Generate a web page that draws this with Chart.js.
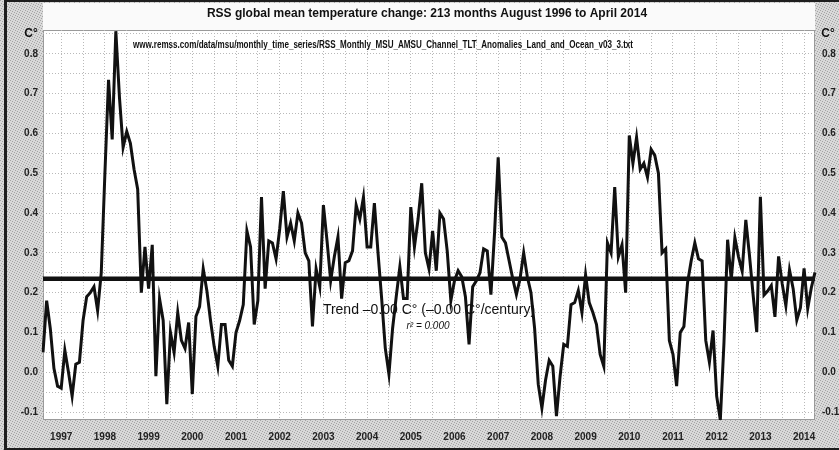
<!DOCTYPE html>
<html>
<head>
<meta charset="utf-8">
<script src="https://cdn.jsdelivr.net/npm/chart.js@4.4.1/dist/chart.umd.min.js"></script>
<style>
  html, body { margin: 0; padding: 0; background: #fff; }
  #wrap { width: 839px; height: 450px; }
</style>
</head>
<body>
<div id="wrap"><canvas id="rss" width="839" height="450"></canvas></div>
<script>
// RSS TLT monthly anomalies (C°), Aug 1996 .. Apr 2014
const startYear = 1996;
const startMonth = 8;
const anom1996 = [0.05, 0.18, 0.11, 0.01, -0.035];
const anom1997 = [-0.04, 0.055, 0.0, -0.06, 0.02, 0.025, 0.13, 0.19, 0.20, 0.215, 0.155, 0.25];
const anom1998 = [0.50, 0.735, 0.585, 0.857, 0.69, 0.565, 0.605, 0.575, 0.51, 0.46, 0.20, 0.315];
const anom1999 = [0.21, 0.32, -0.01, 0.185, 0.13, -0.08, 0.10, 0.05, 0.15, 0.08, 0.06, 0.125];
const anom2000 = [-0.055, 0.14, 0.165, 0.26, 0.205, 0.13, 0.065, 0.015, 0.12, 0.12, 0.03, 0.015];
const anom2001 = [0.10, 0.13, 0.17, 0.355, 0.315, 0.12, 0.18, 0.44, 0.21, 0.33, 0.325, 0.285];
const anom2002 = [0.36, 0.455, 0.34, 0.375, 0.33, 0.40, 0.375, 0.30, 0.28, 0.115, 0.26, 0.215];
const anom2003 = [0.42, 0.33, 0.23, 0.29, 0.34, 0.185, 0.275, 0.28, 0.305, 0.42, 0.385, 0.44];
const anom2004 = [0.315, 0.315, 0.425, 0.30, 0.185, 0.06, -0.005, 0.11, 0.19, 0.265, 0.185, 0.185];
const anom2005 = [0.415, 0.315, 0.385, 0.475, 0.30, 0.26, 0.355, 0.255, 0.40, 0.385, 0.305, 0.18];
const anom2006 = [0.23, 0.255, 0.24, 0.19, 0.07, 0.215, 0.23, 0.25, 0.31, 0.305, 0.195, 0.35];
const anom2007 = [0.54, 0.34, 0.325, 0.28, 0.235, 0.195, 0.235, 0.30, 0.24, 0.20, 0.11, -0.03];
const anom2008 = [-0.09, -0.02, 0.03, 0.015, -0.11, -0.01, 0.07, 0.065, 0.17, 0.175, 0.205, 0.15];
const anom2009 = [0.245, 0.175, 0.15, 0.12, 0.045, 0.015, 0.325, 0.30, 0.465, 0.29, 0.32, 0.20];
const anom2010 = [0.595, 0.525, 0.59, 0.51, 0.525, 0.49, 0.56, 0.545, 0.50, 0.30, 0.31, 0.08];
const anom2011 = [0.045, -0.035, 0.10, 0.115, 0.225, 0.28, 0.325, 0.285, 0.28, 0.08, 0.025, 0.105];
const anom2012 = [-0.06, -0.12, 0.074, 0.333, 0.233, 0.338, 0.29, 0.254, 0.383, 0.294, 0.195, 0.101];
const anom2013 = [0.441, 0.194, 0.204, 0.218, 0.139, 0.291, 0.222, 0.167, 0.257, 0.21, 0.131, 0.162];
const anom2014 = [0.261, 0.16, 0.213, 0.251];

// least-squares trend, value at first and last month
const trendEnds = [0.235, 0.235];

const yearTicks = ['1997', '1998', '1999', '2000', '2001', '2002', '2003', '2004', '2005',
                   '2006', '2007', '2008', '2009', '2010', '2011', '2012', '2013', '2014'];
const yTicks = [-0.1, -0.05, 0, 0.05, 0.1, 0.15, 0.2, 0.25, 0.3, 0.35,
                0.4, 0.45, 0.5, 0.55, 0.6, 0.65, 0.7, 0.75, 0.8, 0.85];
const yMin = -0.12;
const yMax = 0.86;

const titleText = 'RSS global mean temperature change: 213 months August 1996 to April 2014';
const sourceText = 'www.remss.com/data/msu/monthly_time_series/RSS_Monthly_MSU_AMSU_Channel_TLT_Anomalies_Land_and_Ocean_v03_3.txt';
const trendText = 'Trend \u20130.00 C\u00b0 (\u20130.00 C\u00b0/century)';
const r2Text = 'r\u00b2 = 0.000';

const series = [].concat(anom1996, anom1997, anom1998, anom1999, anom2000, anom2001,
  anom2002, anom2003, anom2004, anom2005, anom2006, anom2007, anom2008, anom2009,
  anom2010, anom2011, anom2012, anom2013, anom2014);

const months = series.map((_, i) => {
  const m = startMonth - 1 + i;
  return (startYear + Math.floor(m / 12)) + '-' + String(m % 12 + 1).padStart(2, '0');
});

const FONT = "'Liberation Sans', Arial, sans-serif";
Chart.defaults.font.family = FONT;

// grainy grey used for the axis panels
function speckle(ctx, base, dot) {
  const c = document.createElement('canvas');
  c.width = 5; c.height = 5;
  const g = c.getContext('2d');
  g.fillStyle = base;
  g.fillRect(0, 0, 5, 5);
  g.fillStyle = dot;
  [[0, 0], [2, 1], [4, 2], [1, 3], [3, 4]].forEach(([x, y]) => g.fillRect(x, y, 1, 1));
  return ctx.createPattern(c, 'repeat');
}

const panels = {
  id: 'panels',
  beforeDraw(chart) {
    const { ctx, chartArea: a, width, height } = chart;
    ctx.save();
    ctx.fillStyle = speckle(ctx, '#d9d9d9', '#a4a4a4');
    ctx.fillRect(0, 0, width, height);
    ctx.fillStyle = '#fafafa';
    ctx.fillRect(a.left, 3, a.right - a.left, a.top - 3);
    ctx.fillStyle = '#ffffff';
    ctx.fillRect(a.left, a.top, a.right - a.left, a.bottom - a.top);
    ctx.strokeStyle = '#9a9a9a';
    ctx.lineWidth = 1;
    ctx.strokeRect(a.left + 0.5, a.top + 0.5, a.right - a.left - 1, a.bottom - a.top - 1);
    // outer frame
    ctx.fillStyle = '#1e1e1e';
    ctx.fillRect(4, 0, 3, height);
    ctx.fillRect(4, 0, width - 4, 2);
    ctx.fillRect(4, height - 2, width - 4, 2);
    ctx.restore();
  },
  afterDraw(chart) {
    const { ctx, chartArea: a, scales } = chart;
    const cx = (a.left + a.right) / 2;
    ctx.save();
    ctx.fillStyle = '#111';
    ctx.textBaseline = 'middle';
    ctx.textAlign = 'center';
    ctx.font = 'bold 12px ' + FONT;
    ctx.fillText(titleText, cx - 2, 14);

    ctx.textAlign = 'left';
    ctx.font = 'bold 10px ' + FONT;
    ctx.fillText(sourceText, 133, 45, 500);

    ctx.font = 'bold 12px ' + FONT;
    ctx.textAlign = 'center';
    ctx.fillText('C\u00b0', a.left - 12, 34);
    ctx.fillText('C\u00b0', a.right + 13, 34);

    const ty = scales.y.getPixelForValue(trendEnds[0]);
    ctx.font = '14px ' + FONT;
    ctx.fillText(trendText, cx, ty + 31);
    ctx.font = 'italic 10px ' + FONT;
    ctx.fillText(r2Text, cx - 1, ty + 47);
    ctx.restore();
  }
};

const yTickOpts = {
  font: { size: 10, weight: 'bold' },
  color: '#222',
  callback: v => (Math.abs(Math.round(v * 100)) % 10 === 0 ? v.toFixed(1) : '')
};

new Chart(document.getElementById('rss'), {
  type: 'line',
  data: {
    labels: months,
    datasets: [
      {
        label: 'Trend',
        data: [{ x: months[0], y: trendEnds[0] }, { x: months[months.length - 1], y: trendEnds[1] }],
        borderColor: '#111',
        borderWidth: 4.5,
        pointRadius: 0
      },
      {
        label: 'RSS',
        data: series,
        borderColor: '#111',
        borderWidth: 3,
        pointRadius: 0,
        tension: 0
      }
    ]
  },
  options: {
    responsive: false,
    animation: false,
    layout: { padding: { top: 30 } },
    plugins: {
      legend: { display: false },
      title: { display: false },
      tooltip: { enabled: false }
    },
    scales: {
      x: {
        type: 'category',
        offset: false,
        border: { display: false, dash: [1, 2] },
        grid: {
          drawTicks: false,
          color: c => {
            const lab = months[c.index] || '';
            return lab.endsWith('-01') || lab.endsWith('-07') ? '#b9b9b9' : 'rgba(0,0,0,0)';
          }
        },
        ticks: {
          autoSkip: false,
          maxRotation: 0,
          minRotation: 0,
          padding: 11,
          font: { size: 10, weight: 'bold' },
          color: '#222',
          callback: (v, i) => {
            const lab = months[i];
            const yr = lab.slice(0, 4);
            return lab.endsWith('-01') && yearTicks.includes(yr) ? yr : '';
          }
        },
        afterFit: s => { s.height = 30; }
      },
      y: {
        position: 'left',
        min: yMin,
        max: yMax,
        afterBuildTicks: s => { s.ticks = yTicks.map(v => ({ value: v })); },
        border: { display: false, dash: [1, 2] },
        grid: { drawTicks: false, color: '#b9b9b9' },
        ticks: Object.assign({ padding: 5 }, yTickOpts),
        afterFit: s => { s.width = 43; }
      },
      y2: {
        position: 'right',
        min: yMin,
        max: yMax,
        afterBuildTicks: s => { s.ticks = yTicks.map(v => ({ value: v })); },
        border: { display: false },
        grid: { display: false, drawTicks: false },
        ticks: Object.assign({ padding: 7 }, yTickOpts),
        afterFit: s => { s.width = 24; }
      }
    }
  },
  plugins: [panels]
});
</script>
</body>
</html>
